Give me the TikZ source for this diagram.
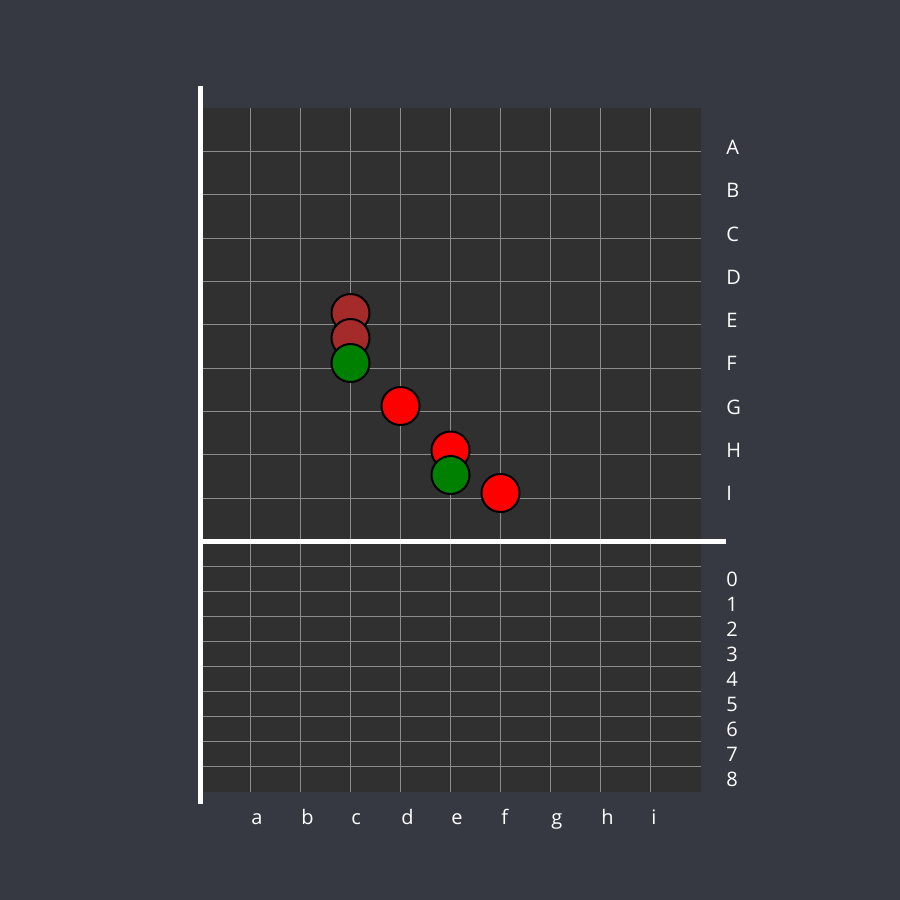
\documentclass[tikz,border=0pt]{standalone}
\usepackage{fontspec}
\setmainfont{Open Sans}
\usepackage{xcolor}
\definecolor{PageBg}{HTML}{363941}
\definecolor{BoardBg}{HTML}{303030}
\definecolor{GridGrey}{HTML}{8C8C8C}
\definecolor{StoneBrown}{HTML}{A52A2A}
\definecolor{StoneGreen}{HTML}{008000}
\definecolor{StoneRed}{HTML}{FF0000}
\usepackage{tikz}
\usetikzlibrary{positioning}
\tikzstyle{stone} = [circle, draw=black, line width=1pt, minimum size=19pt, inner sep=0pt]
\tikzstyle{axisline} = [white, line width=2.5pt]
\tikzstyle{gridline} = [GridGrey, line width=0.5pt]
\tikzstyle{marklabel} = [text=white, font=\fontsize{10}{12}\selectfont, anchor=base west, inner sep=0pt]

\begin{document}
\begin{tikzpicture}[x=0.5pt, y=-0.5pt]
        % --- page and board ---
        \fill [PageBg] (0,0) rectangle (900,900);
        \fill [BoardBg] (203,108) rectangle (701,792);

        % --- upper grid rows ---
        \draw [gridline] (201,151.3) -- (701,151.3);
        \draw [gridline] (201,194.7) -- (701,194.7);
        \draw [gridline] (201,238) -- (701,238);
        \draw [gridline] (201,281.3) -- (701,281.3);
        \draw [gridline] (201,324.7) -- (701,324.7);
        \draw [gridline] (201,368) -- (701,368);
        \draw [gridline] (201,411.3) -- (701,411.3);
        \draw [gridline] (201,454.7) -- (701,454.7);
        \draw [gridline] (201,498) -- (701,498);

        % --- lower grid rows ---
        \draw [gridline] (201,566) -- (701,566);
        \draw [gridline] (201,591) -- (701,591);
        \draw [gridline] (201,616) -- (701,616);
        \draw [gridline] (201,641) -- (701,641);
        \draw [gridline] (201,666) -- (701,666);
        \draw [gridline] (201,691) -- (701,691);
        \draw [gridline] (201,716) -- (701,716);
        \draw [gridline] (201,741) -- (701,741);
        \draw [gridline] (201,766) -- (701,766);

        % --- grid columns ---
        \draw [gridline] (250.5,108) -- (250.5,792);
        \draw [gridline] (300.5,108) -- (300.5,792);
        \draw [gridline] (350.5,108) -- (350.5,792);
        \draw [gridline] (400.5,108) -- (400.5,792);
        \draw [gridline] (450.5,108) -- (450.5,792);
        \draw [gridline] (500.5,108) -- (500.5,792);
        \draw [gridline] (550.5,108) -- (550.5,792);
        \draw [gridline] (600.5,108) -- (600.5,792);
        \draw [gridline] (650.5,108) -- (650.5,792);
        \draw [gridline] (201.5,133) -- (201.5,766);

        % --- axes ---
        \draw [axisline] (200.5,86) -- (200.5,804);
        \draw [axisline] (198,541.5) -- (726,541.5);

        % --- stones ---
        \node [stone, fill=StoneBrown] (c1) at (350.5,313) {};
        \node [stone, fill=StoneBrown] (c2) at (350.5,338) {};
        \node [stone, fill=StoneGreen] (c3) at (350.5,363) {};
        \node [stone, fill=StoneRed] (d1) at (400.5,406) {};
        \node [stone, fill=StoneRed] (e1) at (450.5,450.5) {};
        \node [stone, fill=StoneGreen] (e2) at (450.5,475) {};
        \node [stone, fill=StoneRed] (f1) at (500.5,493) {};

        % --- row letters ---
        \node [marklabel] (rA) at (726,154) {A};
        \node [marklabel] (rB) at (726,197.5) {B};
        \node [marklabel] (rC) at (726,241) {C};
        \node [marklabel] (rD) at (726,284) {D};
        \node [marklabel] (rE) at (726,327.5) {E};
        \node [marklabel] (rF) at (726,370.5) {F};
        \node [marklabel] (rG) at (726,414) {G};
        \node [marklabel] (rH) at (726,457) {H};
        \node [marklabel] (rI) at (726,500.5) {I};

        % --- row numbers ---
        \node [marklabel] (n0) at (726,586) {0};
        \node [marklabel] (n1) at (726,611) {1};
        \node [marklabel] (n2) at (726,636) {2};
        \node [marklabel] (n3) at (726,661) {3};
        \node [marklabel] (n4) at (726,686) {4};
        \node [marklabel] (n5) at (726,711) {5};
        \node [marklabel] (n6) at (726,736) {6};
        \node [marklabel] (n7) at (726,761) {7};
        \node [marklabel] (n8) at (726,786) {8};

        % --- column letters ---
        \node [marklabel] (ca) at (251,824) {a};
        \node [marklabel] (cb) at (301,824) {b};
        \node [marklabel] (cc) at (351,824) {c};
        \node [marklabel] (cd) at (401,824) {d};
        \node [marklabel] (ce) at (451,824) {e};
        \node [marklabel] (cf) at (501,824) {f};
        \node [marklabel] (cg) at (551,824) {g};
        \node [marklabel] (ch) at (601,824) {h};
        \node [marklabel] (ci) at (651,824) {i};
    \end{tikzpicture}
\end{document}
